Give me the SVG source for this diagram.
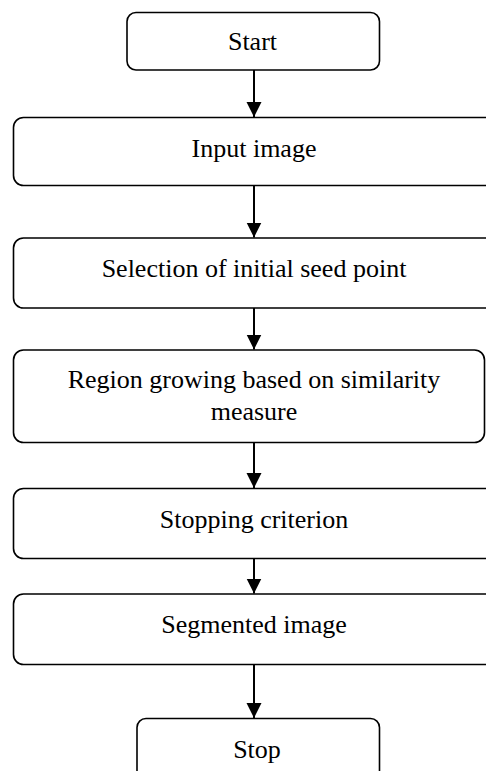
<svg xmlns="http://www.w3.org/2000/svg" width="486" height="771" viewBox="0 0 486 771">
<style>
.box{fill:#fff;stroke:#000;stroke-width:1.6}
.lbl{font-family:"Liberation Serif","Times New Roman",serif;font-size:26px;fill:#000;text-anchor:middle}
.conn{stroke:#000;stroke-width:2;fill:none;marker-end:url(#arr)}
</style>
<defs>
<marker id="arr" markerUnits="userSpaceOnUse" markerWidth="16" markerHeight="16" viewBox="0 0 16 16" refX="15" refY="8" orient="auto">
<path d="M0,0.5 L15,8 L0,15.5 Z" fill="#000"/>
</marker>
</defs>
<rect width="486" height="771" fill="#fff"/>
<g id="connectors">
<line class="conn" x1="254" y1="70" x2="254" y2="117"/>
<line class="conn" x1="254" y1="186" x2="254" y2="237.5"/>
<line class="conn" x1="254" y1="308" x2="254" y2="349.5"/>
<line class="conn" x1="254" y1="442.5" x2="254" y2="488"/>
<line class="conn" x1="254" y1="558.5" x2="254" y2="593.5"/>
<line class="conn" x1="254" y1="664.5" x2="254" y2="718"/>
</g>
<g id="start">
<rect class="box" x="127" y="12.5" width="252.5" height="57.5" rx="9"/>
<text class="lbl" x="252.5" y="50">Start</text>
</g>
<g id="input">
<rect class="box" x="13.5" y="117.5" width="482" height="68" rx="10"/>
<text class="lbl" x="254" y="157">Input image</text>
</g>
<g id="selection">
<rect class="box" x="13.5" y="238" width="482" height="70" rx="10"/>
<text class="lbl" x="254" y="277">Selection of initial seed point</text>
</g>
<g id="region">
<rect class="box" x="13.5" y="350" width="471" height="92.5" rx="10"/>
<text class="lbl" x="254" y="387.5">Region growing based on similarity</text>
<text class="lbl" x="254" y="420">measure</text>
</g>
<g id="stopping">
<rect class="box" x="13.5" y="488.5" width="482" height="70" rx="10"/>
<text class="lbl" x="254" y="527.5">Stopping criterion</text>
</g>
<g id="segmented">
<rect class="box" x="13.5" y="594" width="482" height="70.5" rx="10"/>
<text class="lbl" x="254" y="632.5">Segmented image</text>
</g>
<g id="stop">
<rect class="box" x="137" y="718.5" width="242.5" height="70" rx="9"/>
<text class="lbl" x="257" y="758">Stop</text>
</g>
</svg>
